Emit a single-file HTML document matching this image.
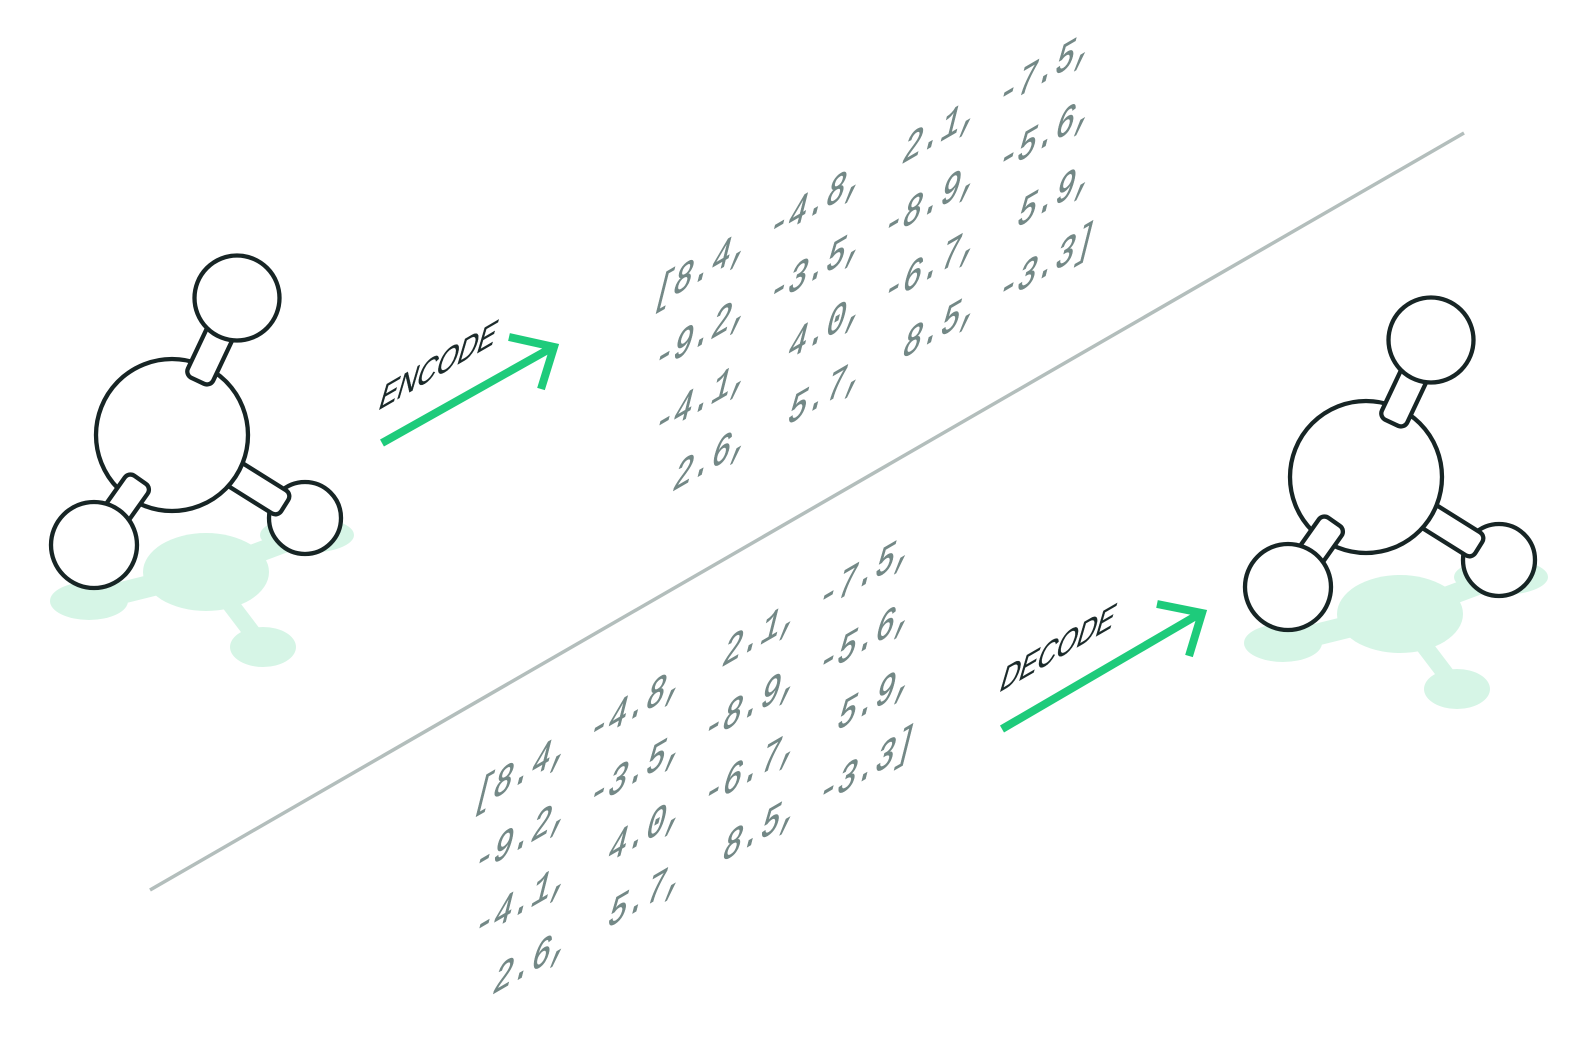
<!DOCTYPE html>
<html>
<head>
<meta charset="utf-8">
<style>
  html,body{margin:0;padding:0;background:#ffffff;}
  body{width:1583px;height:1041px;overflow:hidden;}
  svg{display:block;}
  .num{font-family:"Liberation Mono","DejaVu Sans Mono",monospace;font-size:36.7px;fill:#738886;stroke:#738886;stroke-width:0.6px;}
  .lbl{font-family:"Liberation Sans","DejaVu Sans",sans-serif;font-size:31px;fill:#1b2a2a;stroke:#1b2a2a;stroke-width:0.3px;}
</style>
</head>
<body>
<svg width="1583" height="1041" viewBox="0 0 1583 1041" xmlns="http://www.w3.org/2000/svg">
  <defs>
    <g id="mol">
      <!-- shadow -->
      <g fill="#d6f5e6" stroke="none">
        <line x1="206" y1="572" x2="89" y2="601" stroke="#d6f5e6" stroke-width="22"/>
        <line x1="206" y1="572" x2="263" y2="647" stroke="#d6f5e6" stroke-width="17"/>
        <line x1="206" y1="572" x2="305" y2="535" stroke="#d6f5e6" stroke-width="20"/>
        <ellipse cx="206" cy="572" rx="63" ry="39"/>
        <ellipse cx="89" cy="601" rx="39" ry="19"/>
        <ellipse cx="263" cy="647" rx="33" ry="20"/>
        <ellipse cx="307" cy="535" rx="47" ry="18"/>
      </g>
      <g fill="#ffffff" stroke="#172525" stroke-width="4.3">
        <!-- right H -->
        <circle cx="305" cy="518" r="36"/>
        <!-- right bond -->
        <g transform="translate(172 435) rotate(32)">
          <rect x="40" y="-13.5" width="93" height="27" rx="7"/>
        </g>
        <!-- central atom -->
        <circle cx="172" cy="435" r="76"/>
        <!-- top bond -->
        <g transform="translate(172 435) rotate(-64.7)">
          <rect x="60" y="-14" width="75" height="28" rx="7"/>
        </g>
        <!-- top H -->
        <circle cx="237" cy="298" r="42.5"/>
        <!-- bottom-left bond -->
        <g transform="translate(172 435) rotate(125.3)">
          <rect x="55" y="-14" width="68" height="28" rx="7"/>
        </g>
        <!-- bottom-left H -->
        <circle cx="94" cy="545" r="43"/>
      </g>
    </g>
  </defs>

  <!-- divider line -->
  <line x1="150" y1="890" x2="1464" y2="133" stroke="#b3bebc" stroke-width="3.5"/>

  <!-- molecules -->
  <use href="#mol"/>
  <use href="#mol" transform="translate(1194 42)"/>

  <!-- ENCODE arrow -->
  <g stroke="#1ecb7b" stroke-width="8" fill="none" stroke-linecap="butt" stroke-linejoin="miter">
    <line x1="382" y1="443" x2="553" y2="347"/>
    <polyline points="509,337 554,347 541,389"/>
  </g>
  <text class="lbl" transform="matrix(0.866 -0.5 0 1 377 411) skewX(-22)" textLength="134" lengthAdjust="spacingAndGlyphs">ENCODE</text>

  <!-- DECODE arrow -->
  <g stroke="#1ecb7b" stroke-width="8" fill="none" stroke-linecap="butt" stroke-linejoin="miter">
    <line x1="1002" y1="729" x2="1201" y2="613"/>
    <polyline points="1157,604 1202,613 1189,656"/>
  </g>
  <text class="lbl" transform="matrix(0.866 -0.5 0 1 998 693) skewX(-22)" textLength="131" lengthAdjust="spacingAndGlyphs">DECODE</text>

  <!-- top matrix -->
  <g class="num">
    <text transform="matrix(0.866 -0.5 0 1 652 308) skewX(-18.6) scale(1 1.05)"><tspan x="0">[8.4,</tspan><tspan x="132.4">-4.8,</tspan><tspan x="286.9">2.1,</tspan><tspan x="397.2">-7.5,</tspan></text>
    <text transform="matrix(0.866 -0.5 0 1 652 373) skewX(-18.6) scale(1 1.05)"><tspan x="0">-9.2,</tspan><tspan x="132.4">-3.5,</tspan><tspan x="264.8">-8.9,</tspan><tspan x="397.2">-5.6,</tspan></text>
    <text transform="matrix(0.866 -0.5 0 1 652 438) skewX(-18.6) scale(1 1.05)"><tspan x="0">-4.1,</tspan><tspan x="154.5">4.0,</tspan><tspan x="264.8">-6.7,</tspan><tspan x="419.3">5.9,</tspan></text>
    <text transform="matrix(0.866 -0.5 0 1 652 503) skewX(-18.6) scale(1 1.05)"><tspan x="22.1">2.6,</tspan><tspan x="154.5">5.7,</tspan><tspan x="286.9">8.5,</tspan><tspan x="397.2">-3.3]</tspan></text>
  </g>

  <!-- bottom matrix -->
  <g class="num">
    <text transform="matrix(0.866 -0.5 0 1 472 811) skewX(-18.6) scale(1 1.05)"><tspan x="0">[8.4,</tspan><tspan x="132.4">-4.8,</tspan><tspan x="286.9">2.1,</tspan><tspan x="397.2">-7.5,</tspan></text>
    <text transform="matrix(0.866 -0.5 0 1 472 876) skewX(-18.6) scale(1 1.05)"><tspan x="0">-9.2,</tspan><tspan x="132.4">-3.5,</tspan><tspan x="264.8">-8.9,</tspan><tspan x="397.2">-5.6,</tspan></text>
    <text transform="matrix(0.866 -0.5 0 1 472 941) skewX(-18.6) scale(1 1.05)"><tspan x="0">-4.1,</tspan><tspan x="154.5">4.0,</tspan><tspan x="264.8">-6.7,</tspan><tspan x="419.3">5.9,</tspan></text>
    <text transform="matrix(0.866 -0.5 0 1 472 1006) skewX(-18.6) scale(1 1.05)"><tspan x="22.1">2.6,</tspan><tspan x="154.5">5.7,</tspan><tspan x="286.9">8.5,</tspan><tspan x="397.2">-3.3]</tspan></text>
  </g>
</svg>
</body>
</html>
